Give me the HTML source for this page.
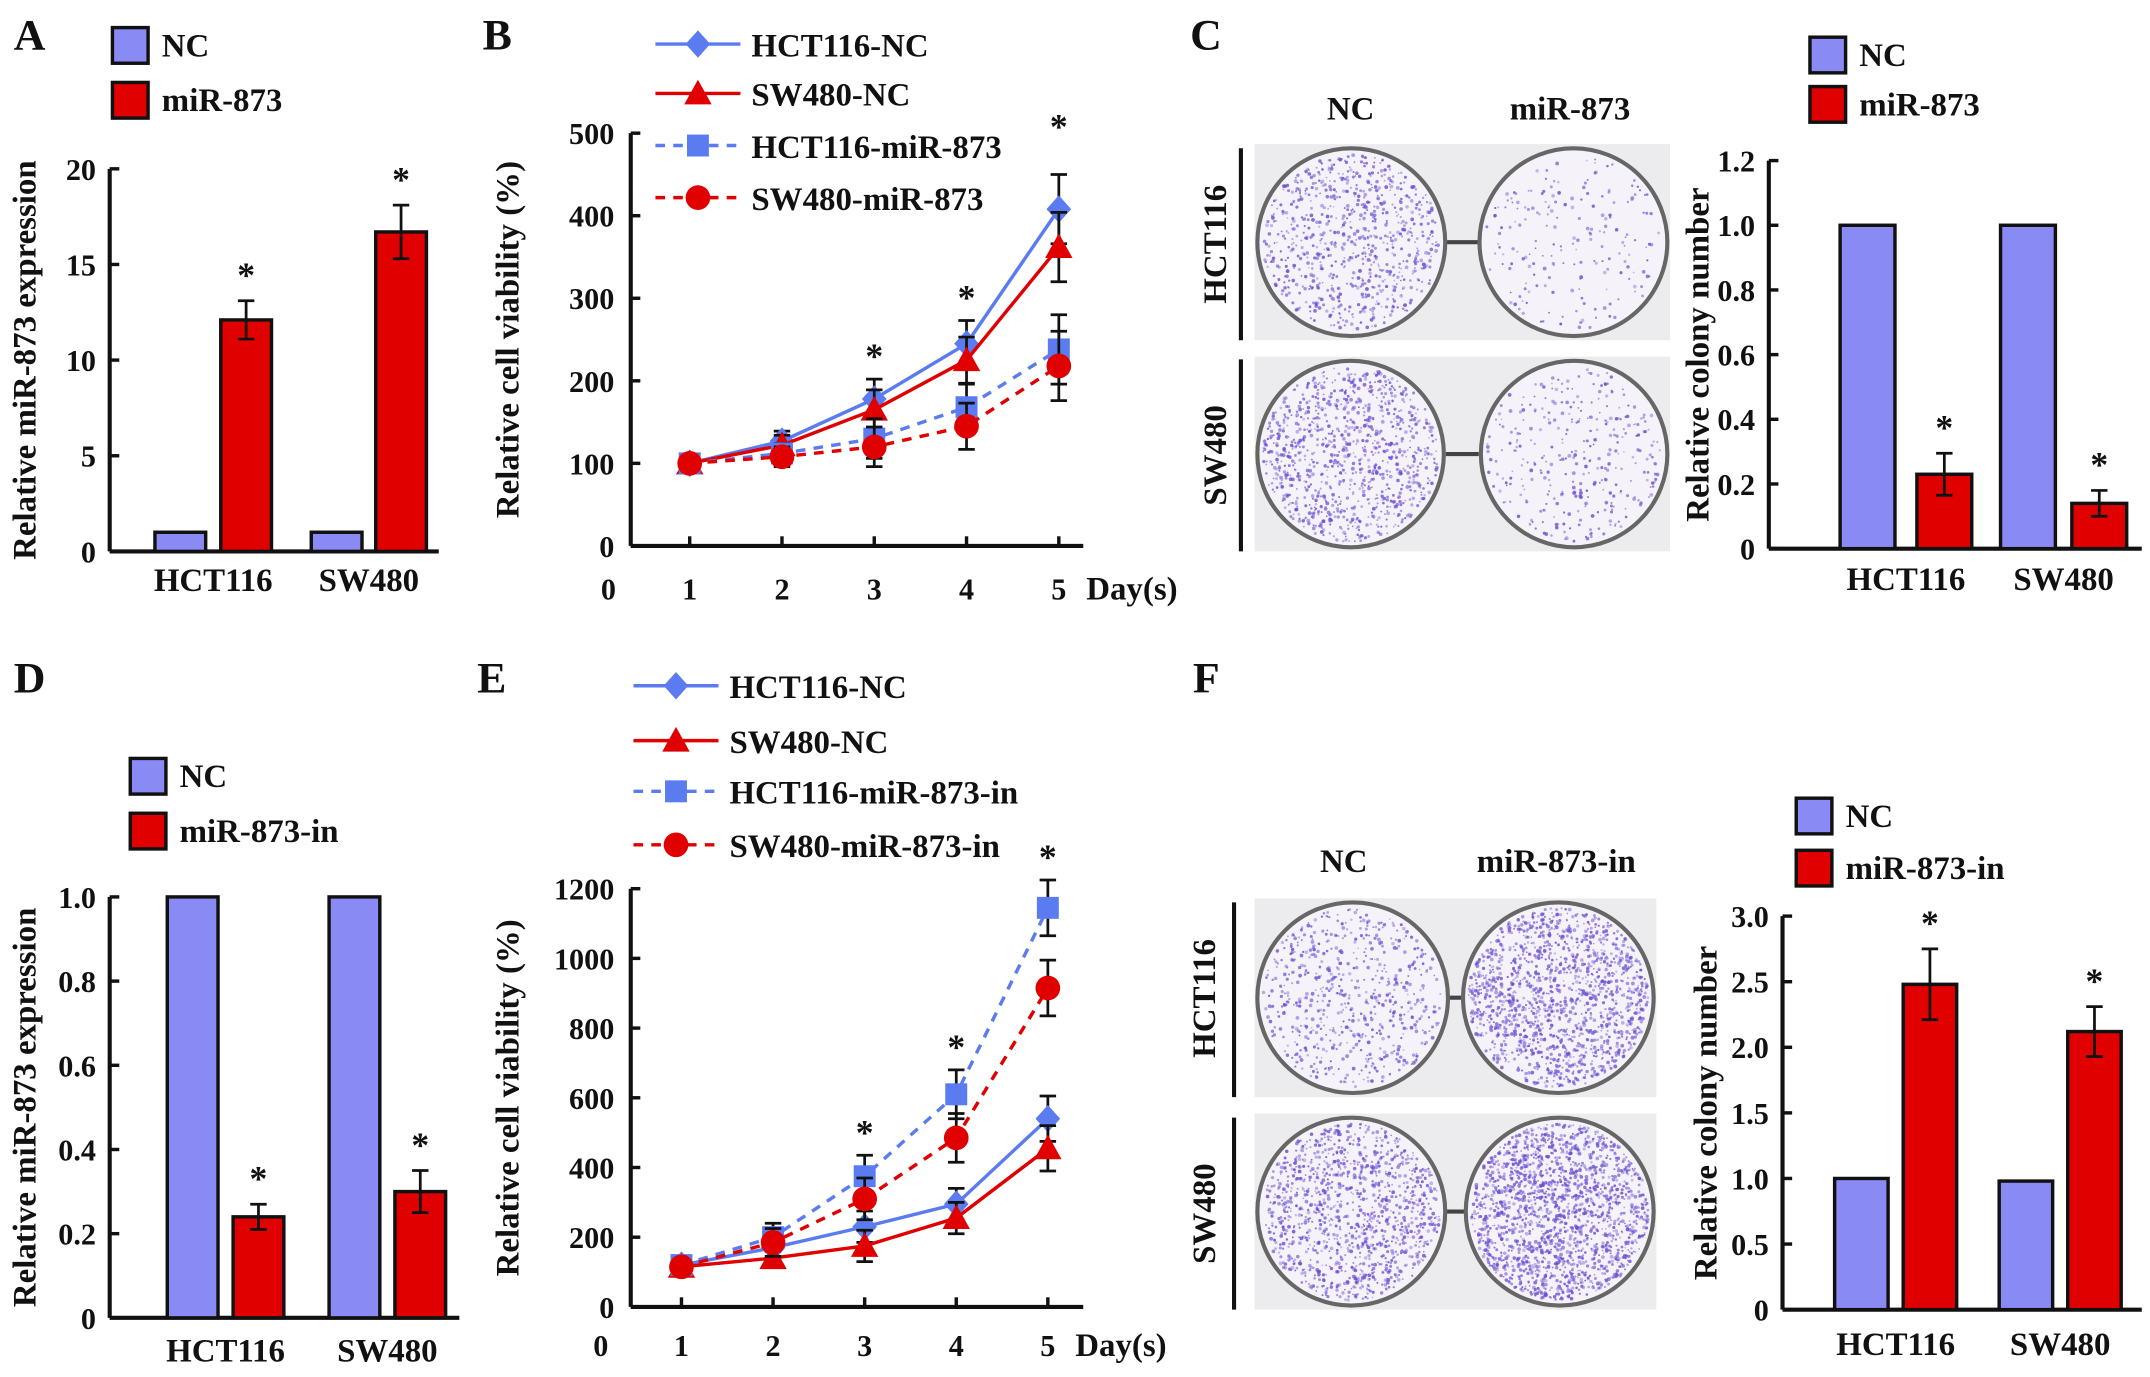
<!DOCTYPE html>
<html><head><meta charset="utf-8"><style>
html,body{margin:0;padding:0;background:#fff}
svg{display:block}
text{font-family:"Liberation Serif",serif;font-weight:bold;fill:#111}
</style></head><body>
<svg id="fig" width="2150" height="1377" viewBox="0 0 1568 1004" xmlns="http://www.w3.org/2000/svg"></svg>
<script>
// ---- data ----
const barCats = ["HCT116","SW480"];
const aNC = [1, 1];
const aMiR = [12.1, 16.7];
const aMiRErr = [1.0, 1.4];
const aTicks = [0,5,10,15,20];

const days = [1,2,3,4,5];
const bHctNC = [100,127,178,245,408];
const bSwNC = [100,122,165,225,362];
const bHctMiR = [100,112,130,168,238];
const bSwMiR = [100,108,120,145,218];
const bErr = [8,12,24,28,42];
const bTicks = [0,100,200,300,400,500];

const cNC = [1.0, 1.0];
const cMiR = [0.23, 0.14];
const cMiRErr = [0.065, 0.04];
const cTicks = [0,0.2,0.4,0.6,0.8,1.0,1.2];

const dNC = [1.0, 1.0];
const dIn = [0.24, 0.30];
const dInErr = [0.03, 0.05];
const dTicks = [0,0.2,0.4,0.6,0.8,1.0];

const eHctNC = [120,170,230,295,540];
const eSwNC = [115,140,175,255,455];
const eHctIn = [120,200,375,610,1145];
const eSwIn = [115,185,310,485,915];
const eErrNC = [15,25,45,45,65];
const eErrIn = [15,40,60,70,80];
const eTicks = [0,200,400,600,800,1000,1200];

const fNC = [1.0, 0.98];
const fIn = [2.48, 2.12];
const fInErr = [0.27, 0.19];
const fTicks = [0,0.5,1.0,1.5,2.0,2.5,3.0];

const BLUE="#8a8af5", RED="#e00000", LBLUE="#5a7cf0";
const svg=document.getElementById('fig');
const NS="http://www.w3.org/2000/svg";
function mk(tag,attrs,parent){const e=document.createElementNS(NS,tag);for(const k in attrs)e.setAttribute(k,attrs[k]);(parent||svg).appendChild(e);return e;}
function txt(x,y,s,size,name,anchor,rot){const t=mk('text',{x:x,y:y,'font-size':size,'text-anchor':anchor||'middle'});if(rot)t.setAttribute('transform','rotate(-90 '+x+' '+y+')');t.textContent=s;


return t;}
function line(x1,y1,x2,y2,stroke,w,name,dash){const l=mk('line',{x1:x1,y1:y1,x2:x2,y2:y2,stroke:stroke,'stroke-width':w});if(dash)l.setAttribute('stroke-dasharray',dash);


return l;}

// panel letters
[["A",10,36],["B",352,36],["C",868,36],["D",10,505],["E",348,505],["F",870,505]].forEach(p=>txt(p[1],p[2],p[0],32,'panel-label-'+p[0].toLowerCase(),'start'));

function legendBox(x,y,color,label,name){const r=mk('rect',{x:x,y:y,width:26,height:26,fill:color,stroke:'#111','stroke-width':2.5});


txt(x+36,y+21,label,24,name,'start');}

function errbar(x,y1,y2,name){line(x,y1,x,y2,'#111',2,name);line(x-6,y1,x+6,y1,'#111',2,name+'-cap-top');line(x-6,y2,x+6,y2,'#111',2,name+'-cap-bottom');}

function barChart(o){
  const sy=v=>o.y0-(v/o.max)*(o.y0-o.yTop);
  line(o.ax,o.yTop,o.ax,o.y0,'#111',3,o.id+'-y-axis');
  line(o.ax,o.y0,o.axEnd,o.y0,'#111',3,o.id+'-x-axis');
  o.ticks.forEach(t=>{const y=sy(t);line(o.ax,y,o.ax+7,y,'#111',2.5,o.id+'-y-tick');txt(o.ax-10,y+8,o.fmt(t),22,o.id+'-y-tick-label','end');});
  txt(o.ylx,(o.yTop+o.y0)/2,o.ylabel,24,o.id+'-y-axis-title','middle',true);
  barCats.forEach((c,i)=>{
    const g=o.groups[i];
    const r1=mk('rect',{x:g[0],y:sy(o.nc[i]),width:o.bw,height:o.y0-sy(o.nc[i]),fill:BLUE,stroke:'#111','stroke-width':2.5});
    
    
    const r2=mk('rect',{x:g[1],y:sy(o.tr[i]),width:o.bw,height:o.y0-sy(o.tr[i]),fill:RED,stroke:'#111','stroke-width':2.5});
    
    
    const cx=g[1]+o.bw/2;
    errbar(cx,sy(o.tr[i]+o.err[i]),sy(o.tr[i]-o.err[i]),o.id+'-error-bar');
    txt(cx,sy(o.tr[i]+o.err[i])-10,'*',26,o.id+'-significance-star');
    txt((g[0]+g[1]+o.bw)/2,o.labY,c,24,o.id+'-x-tick-label');
  });
}

barChart({id:'a',ax:80,axEnd:320,yTop:123,y0:402,max:20,ticks:aTicks,fmt:t=>String(t),nc:aNC,tr:aMiR,err:aMiRErr,groups:[[113,161],[227,274]],bw:37,labY:431,ylx:26,ylabel:'Relative miR-873 expression'});
legendBox(82,20,BLUE,'NC','a-legend-nc');legendBox(82,60,RED,'miR-873','a-legend-mir873');

barChart({id:'c',ax:1290,axEnd:1562,yTop:117,y0:400,max:1.2,ticks:cTicks,fmt:t=>t===0?'0':t.toFixed(1),nc:cNC,tr:cMiR,err:cMiRErr,groups:[[1342,1398],[1459,1511]],bw:40,labY:430,ylx:1246,ylabel:'Relative colony number'});
legendBox(1320,27,BLUE,'NC','c-legend-nc');legendBox(1320,63,RED,'miR-873','c-legend-mir873');

barChart({id:'d',ax:80,axEnd:335,yTop:654,y0:961,max:1.0,ticks:dTicks,fmt:t=>t===0?'0':t.toFixed(1),nc:dNC,tr:dIn,err:dInErr,groups:[[122,170],[240,288]],bw:37,labY:993,ylx:26,ylabel:'Relative miR-873 expression'});
legendBox(95,553,BLUE,'NC','d-legend-nc');legendBox(95,593,RED,'miR-873-in','d-legend-mir873-in');

barChart({id:'f',ax:1300,axEnd:1562,yTop:668,y0:955,max:3.0,ticks:fTicks,fmt:t=>t===0?'0':t.toFixed(1),nc:fNC,tr:fIn,err:fInErr,groups:[[1338,1388],[1458,1508]],bw:39,labY:988,ylx:1252,ylabel:'Relative colony number'});
legendBox(1310,582,BLUE,'NC','f-legend-nc');legendBox(1310,620,RED,'miR-873-in','f-legend-mir873-in');

// line charts
function marker(type,x,y,color,name){let m;
 if(type==='diamond')m=mk('polygon',{points:`${x},${y-10} ${x+9},${y} ${x},${y+10} ${x-9},${y}`,fill:color});
 else if(type==='tri')m=mk('polygon',{points:`${x},${y-10} ${x+10},${y+8} ${x-10},${y+8}`,fill:color});
 else if(type==='sq')m=mk('rect',{x:x-8,y:y-8,width:16,height:16,fill:color});
 else m=mk('circle',{cx:x,cy:y,r:9,fill:color});
 
 }
function lineChart(o){
  const sx=d=>o.x1+(d-1)*o.dx, sy=v=>o.y0-(v/o.max)*(o.y0-o.yTop);
  line(o.ax,o.yTop,o.ax,o.y0,'#111',3,o.id+'-y-axis');
  line(o.ax,o.y0,o.axEnd,o.y0,'#111',3,o.id+'-x-axis');
  o.ticks.forEach(t=>{const y=sy(t);line(o.ax,y,o.ax+7,y,'#111',2.5,o.id+'-y-tick');txt(o.ax-12,y+8,String(t),22,o.id+'-y-tick-label','end');});
  txt(o.x1-o.dx+8,o.labY,'0',22,o.id+'-x-tick-label');
  days.forEach(d=>{line(sx(d),o.y0,sx(d),o.y0-7,'#111',2.5,o.id+'-x-tick');txt(sx(d),o.labY,String(d),22,o.id+'-x-tick-label');});
  txt(sx(5)+20,o.labY,'Day(s)',24,o.id+'-x-axis-title','start');
  txt(o.ylx,(o.yTop+o.y0)/2,o.ylabel,24,o.id+'-y-axis-title','middle',true);
  o.series.forEach((s,si)=>{
    const pts=s.v.map((v,i)=>sx(days[i])+','+sy(v)).join(' ');
    const p=mk('polyline',{points:pts,fill:'none',stroke:s.c,'stroke-width':2.5});
    if(s.dash)p.setAttribute('stroke-dasharray','7 6');
    
    
    s.v.forEach((v,i)=>{const x=sx(days[i]);errbar(x,sy(v+s.e[i]),sy(v-s.e[i]),o.id+'-error-'+s.n);marker(s.m,x,sy(v),s.c,o.id+'-point-'+s.n);});
    const ly=o.legY[si];
    line(o.legX,ly,o.legX+62,ly,s.c,2.5,o.id+'-legend-line-'+s.n,s.dash?'7 6':null);
    marker(s.m,o.legX+31,ly,s.c,o.id+'-legend-marker-'+s.n);
    txt(o.legX+70,ly+9,s.label,24,o.id+'-legend-'+s.n,'start');
  });
  o.stars.forEach((d,i)=>txt(sx(d),sy(o.starV[i])-8,'*',26,o.id+'-significance-star'));
}
lineChart({id:'b',ax:460,axEnd:790,yTop:97,y0:398,max:500,ticks:bTicks,x1:503,dx:67.3,labY:437,ylx:378,ylabel:'Relative cell viability (%)',
 legX:478,legY:[32,68,106,144],stars:[3,4,5],starV:[bHctNC[2]+bErr[2],bHctNC[3]+bErr[3],bHctNC[4]+bErr[4]+30],
 series:[{n:'hct116-nc',label:'HCT116-NC',v:bHctNC,e:bErr,c:LBLUE,m:'diamond'},{n:'sw480-nc',label:'SW480-NC',v:bSwNC,e:bErr,c:RED,m:'tri'},
 {n:'hct116-mir873',label:'HCT116-miR-873',v:bHctMiR,e:bErr,c:LBLUE,m:'sq',dash:1},{n:'sw480-mir873',label:'SW480-miR-873',v:bSwMiR,e:bErr,c:RED,m:'circ',dash:1}]});
lineChart({id:'e',ax:460,axEnd:790,yTop:648,y0:953,max:1200,ticks:eTicks,x1:497,dx:66.8,labY:989,ylx:378,ylabel:'Relative cell viability (%)',
 legX:462,legY:[500,540,577,616],stars:[3,4,5],starV:[eHctIn[2]+eErrIn[2],eHctIn[3]+eErrIn[3],eHctIn[4]+eErrIn[4]],
 series:[{n:'hct116-nc',label:'HCT116-NC',v:eHctNC,e:eErrNC,c:LBLUE,m:'diamond'},{n:'sw480-nc',label:'SW480-NC',v:eSwNC,e:eErrNC,c:RED,m:'tri'},
 {n:'hct116-mir873-in',label:'HCT116-miR-873-in',v:eHctIn,e:eErrIn,c:LBLUE,m:'sq',dash:1},{n:'sw480-mir873-in',label:'SW480-miR-873-in',v:eSwIn,e:eErrIn,c:RED,m:'circ',dash:1}]});

// colony plate photos (decorative)
let seed=7;function rnd(){seed=(seed*16807)%2147483647;return seed/2147483647;}
function plate(cx,cy,r,n,name){
  const c=mk('circle',{cx:cx,cy:cy,r:r,fill:'#f6f2fa',stroke:'#666','stroke-width':3});
  
  
  const g=mk('g',{fill:'#6a4fd0'});
  
  
  for(let i=0;i<n;i++){const a=rnd()*6.283,d=Math.sqrt(rnd())*(r-4);mk('circle',{cx:cx+d*Math.cos(a),cy:cy+d*Math.sin(a),r:0.6+rnd()*0.8,opacity:0.35+rnd()*0.5},g);}
}
function photoRow(x,y,w,h,n1,n2,name){
  const bg=mk('rect',{x:x,y:y,width:w,height:h,fill:'#ececee'});
  
  
  const r=h/2-3;
  line(x+w/2-12,y+h/2,x+w/2+12,y+h/2,'#444',3,name+'-plate-bridge');
  plate(x+r+2,y+h/2,r,n1,name+'-plate-nc');
  plate(x+w-r-2,y+h/2,r,n2,name+'-plate-treated');
}
photoRow(915,105,303,143,800,200,'c-hct116');
photoRow(915,260,303,142,1000,340,'c-sw480');
txt(985,87,'NC',24,'c-photo-col-nc');txt(1145,87,'miR-873',24,'c-photo-col-mir873');
line(905,108,905,248,'#111',3,'c-row-bar-hct116');line(905,262,905,402,'#111',3,'c-row-bar-sw480');
txt(894,178,'HCT116',24,'c-row-label-hct116','middle',true);txt(894,332,'SW480',24,'c-row-label-sw480','middle',true);

photoRow(915,655,293,145,650,1500,'f-hct116');
photoRow(915,812,293,143,1200,1800,'f-sw480');
txt(980,636,'NC',24,'f-photo-col-nc');txt(1135,636,'miR-873-in',24,'f-photo-col-mir873-in');
line(900,658,900,800,'#111',3,'f-row-bar-hct116');line(900,815,900,955,'#111',3,'f-row-bar-sw480');
txt(886,728,'HCT116',24,'f-row-label-hct116','middle',true);txt(886,885,'SW480',24,'f-row-label-sw480','middle',true);
</script>
</body></html>
